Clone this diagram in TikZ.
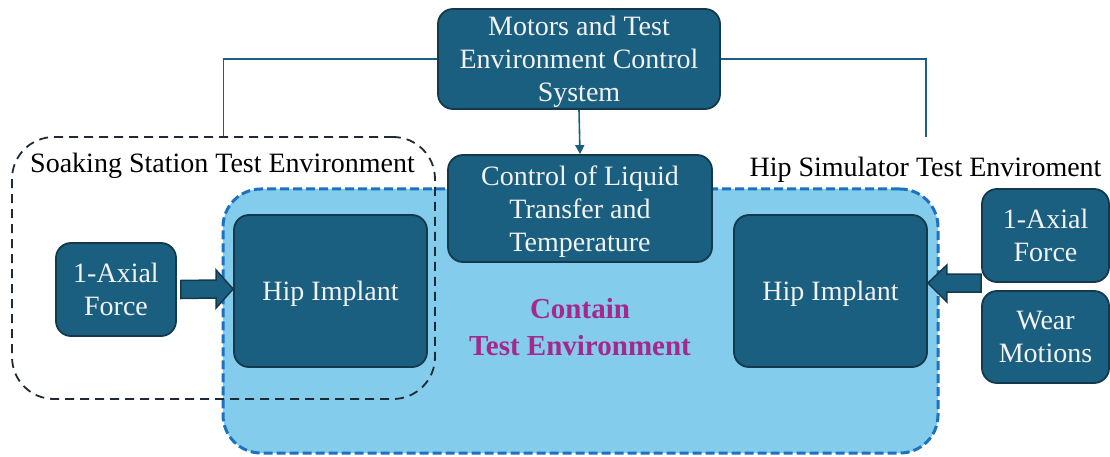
\documentclass[tikz,border=0pt]{standalone}
\usepackage{fontspec}
\setmainfont{Liberation Serif}
\usetikzlibrary{calc,arrows.meta}
\definecolor{boxfill}{HTML}{1B5F80}
\definecolor{boxline}{HTML}{14384C}
\definecolor{contfill}{HTML}{83CCEB}
\definecolor{contline}{HTML}{1C72C0}
\definecolor{soakline}{HTML}{1E2A36}
\definecolor{magtext}{HTML}{A4288E}
\definecolor{txtwhite}{HTML}{F2F2F2}
\tikzset{
  blk/.style={draw=boxline, line width=1.8pt, fill=boxfill, rounded corners=15pt,
    text=txtwhite, align=center, inner sep=0pt, text depth=0pt,
    font=\fontsize{28}{33}\selectfont},
  lbl/.style={text=black, inner sep=0pt, anchor=base, font=\fontsize{28}{33}\selectfont},
  conn/.style={draw=boxfill, line width=1.6pt},
  blockarrow/.style={draw=boxline, line width=1.5pt, fill=boxfill, line join=miter}
}
\begin{document}
\begin{tikzpicture}[x=1pt,y=-1pt]
\useasboundingbox (0,0) rectangle (1110,457);
% container
\node[draw=contline, fill=contfill, line width=3pt, dash pattern=on 9pt off 4pt,
  rounded corners=38pt, minimum width=715pt, minimum height=264pt, inner sep=0pt]
  (cont) at (580.5,321) {};
% soaking station dashed box
\node[draw=soakline, line width=1.8pt, dash pattern=on 9pt off 6pt,
  rounded corners=42pt, minimum width=423pt, minimum height=262pt, inner sep=0pt]
  (soak) at (223.5,268) {};
% boxes
\node[blk, minimum width=282pt, minimum height=100pt] (top) at (579,59)
  {Motors and Test\\Environment Control\\System};
\node[blk, minimum width=264pt, minimum height=107pt] (ctrl) at (580,208.5)
  {Control of Liquid\\Transfer and\\Temperature};
\node[blk, minimum width=193pt, minimum height=152pt] (hipL) at (330.5,291) {Hip Implant};
\node[blk, minimum width=193pt, minimum height=152pt] (hipR) at (830.5,291) {Hip Implant};
\node[blk, minimum width=120pt, minimum height=93pt] (lforce) at (116,289.5) {1-Axial\\Force};
\node[blk, minimum width=127pt, minimum height=93pt] (rforce) at (1045.5,235.5) {1-Axial\\Force};
\node[blk, minimum width=127pt, minimum height=92pt] (wear) at (1045.5,337) {Wear\\Motions};
% labels
\node[lbl] (soaklbl) at (222.5,173) {Soaking Station Test Environment};
\node[lbl] (hiplbl) at (925.5,176) {Hip Simulator Test Enviroment};
\node[text=magtext, align=center, inner sep=0pt,
  font=\fontsize{29}{37}\selectfont\bfseries] (contlbl) at (580,327)
  {Contain\\Test Environment};
% connectors
\coordinate (rend) at (926,137);
\draw[conn] (top.west) -| (soak.north);
\draw[conn] (top.east) -| (rend);
\draw[conn, -{Triangle[width=9pt,length=9pt]}] (top.south) -- (ctrl.north);
% block arrows
\draw[blockarrow] ($(lforce.east)+(4,-9)$) -- ($(hipL.west)+(-17,-11)$) -- ($(hipL.west)+(-17,-21)$)
  -- ($(hipL.west)+(0,-2)$) -- ($(hipL.west)+(-17,17)$) -- ($(hipL.west)+(-17,7)$)
  -- ($(lforce.east)+(4,9)$) -- cycle;
\draw[blockarrow] ($(rforce.west |- hipR.east)+(0,-17)$) -- ($(hipR.east)+(19,-17)$) -- ($(hipR.east)+(19,-26)$)
  -- ($(hipR.east)+(0,-8)$) -- ($(hipR.east)+(19,11)$) -- ($(hipR.east)+(19,1)$)
  -- ($(rforce.west |- hipR.east)+(0,1)$) -- cycle;
\end{tikzpicture}
\end{document}
